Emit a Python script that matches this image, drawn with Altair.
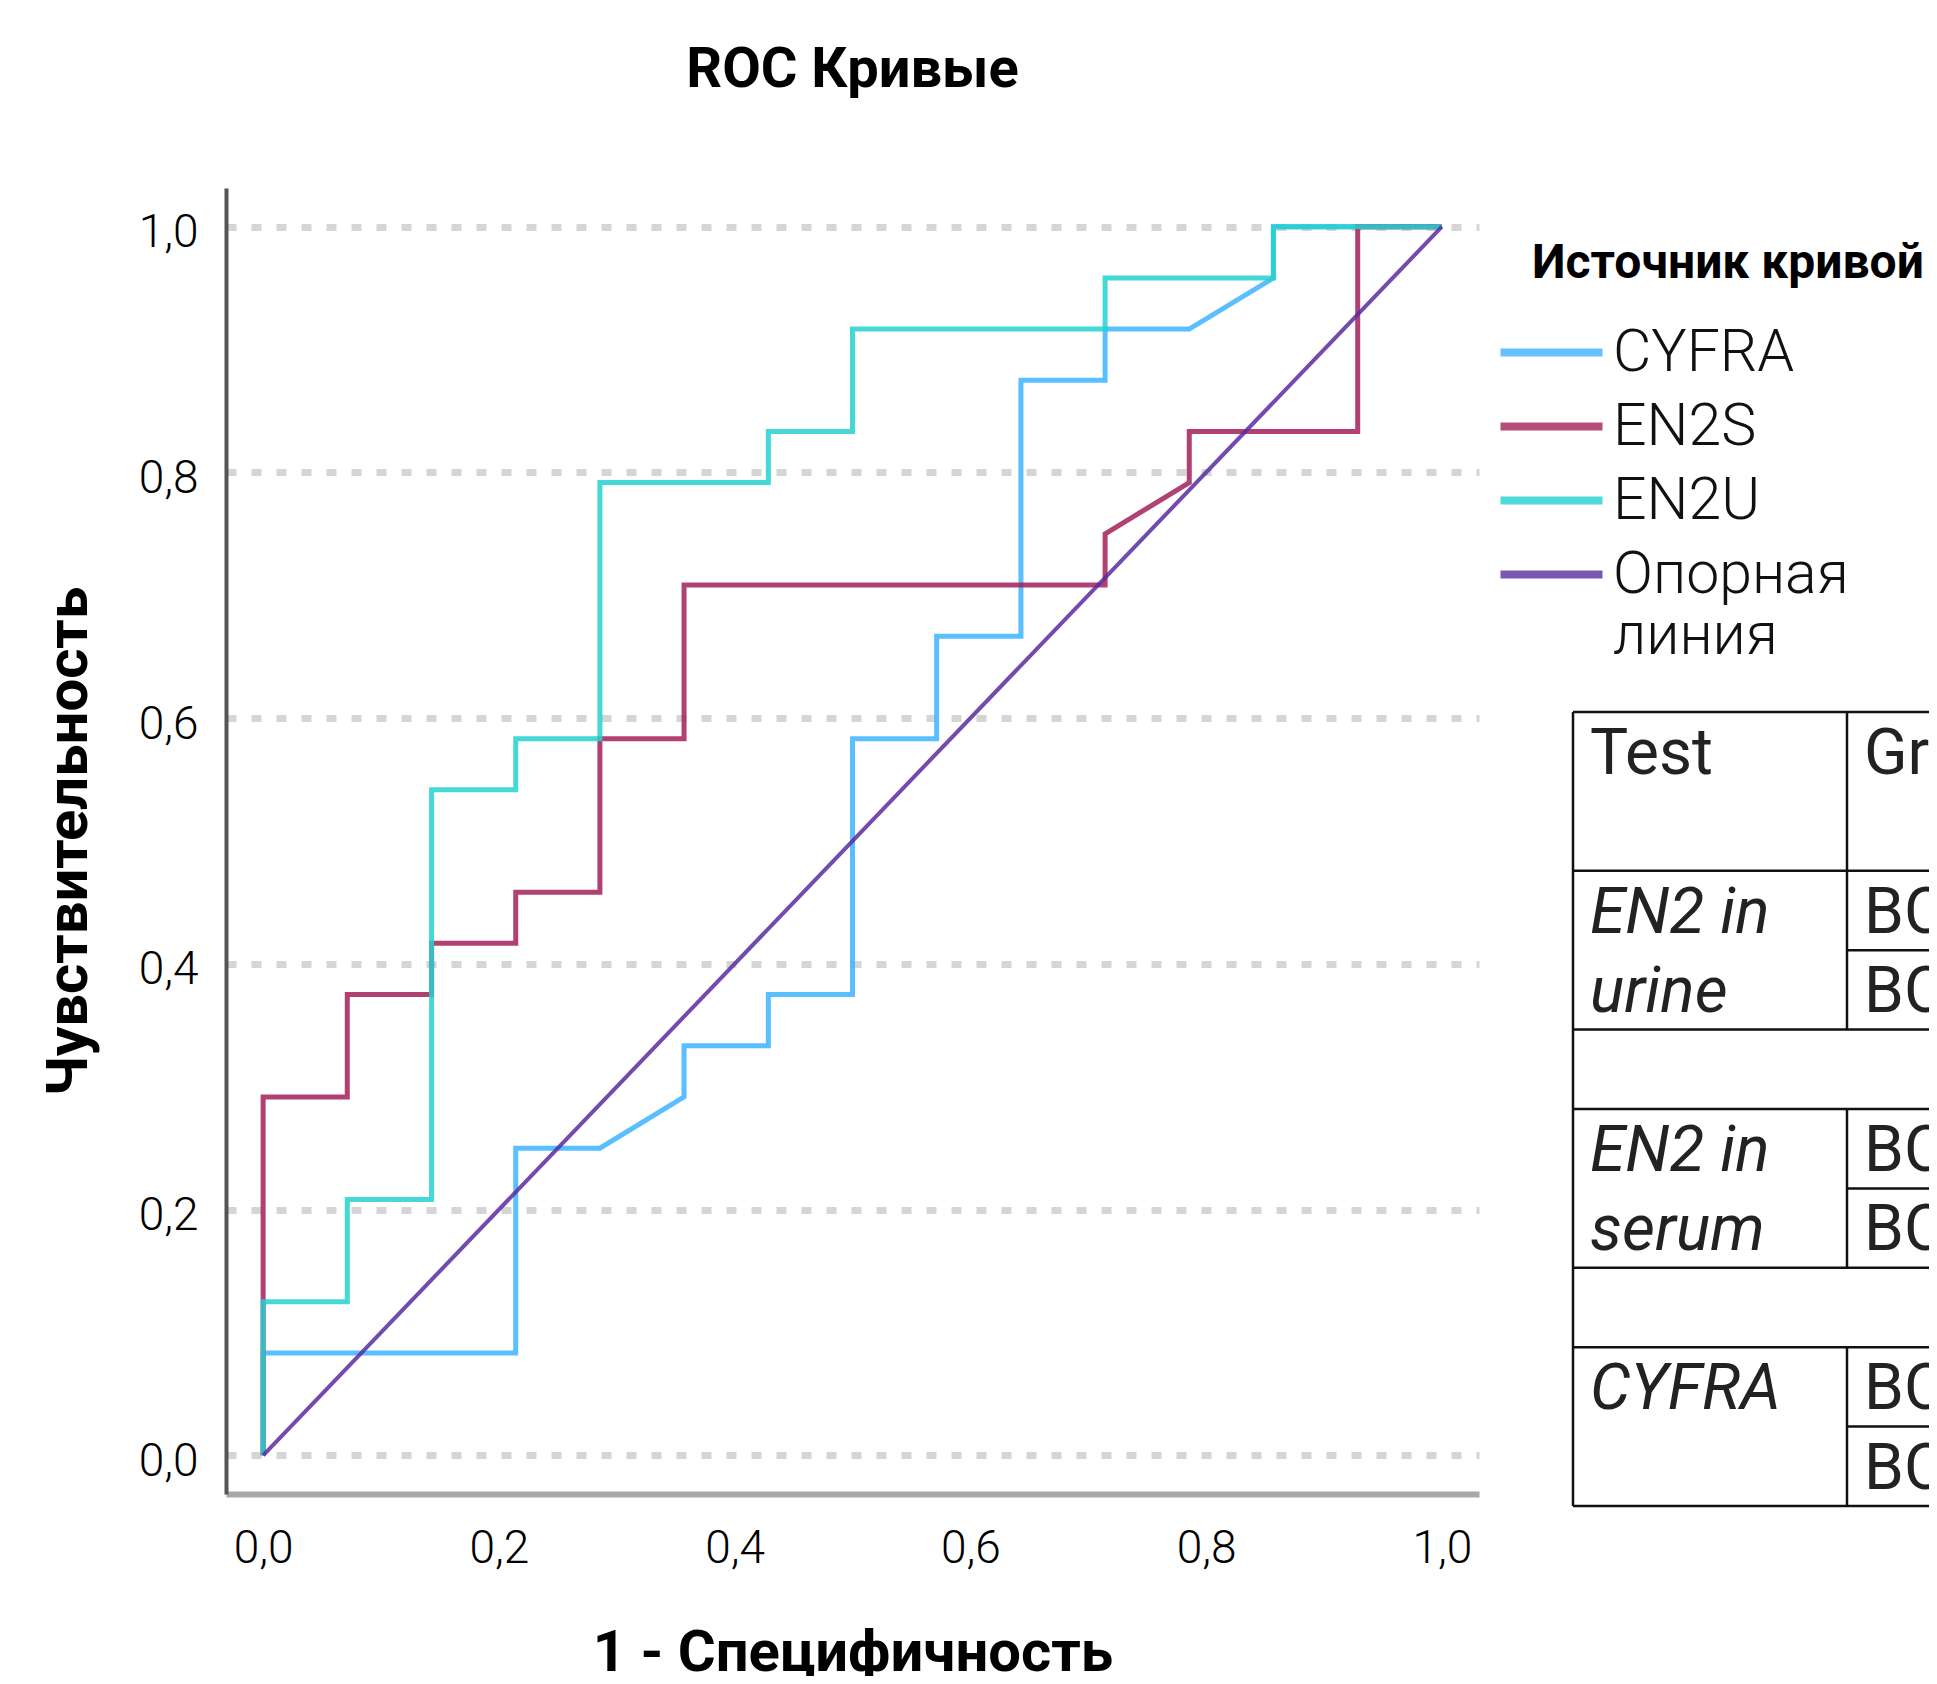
import altair as alt
import pandas as pd

# ---------------- data ----------------
series_names = ["CYFRA", "EN2S", "EN2U", "Опорная линия"]
series_colors = ["#3db4ff", "#a3205a", "#23d2cf", "#5b2ca0"]

cyfra_fpr = [0.0, 0.0, 0.2143, 0.2143, 0.2857, 0.3571, 0.3571, 0.4286, 0.4286, 0.5, 0.5,
             0.5714, 0.5714, 0.6429, 0.6429, 0.7143, 0.7143, 0.7857, 0.8571, 0.8571, 1.0]
cyfra_tpr = [0.0, 0.0833, 0.0833, 0.25, 0.25, 0.2917, 0.3333, 0.3333, 0.375, 0.375, 0.5833,
             0.5833, 0.6667, 0.6667, 0.875, 0.875, 0.9167, 0.9167, 0.9583, 1.0, 1.0]

en2s_fpr = [0.0, 0.0, 0.0714, 0.0714, 0.1429, 0.1429, 0.2143, 0.2143, 0.2857, 0.2857,
            0.3571, 0.3571, 0.7143, 0.7143, 0.7857, 0.7857, 0.9286, 0.9286, 1.0]
en2s_tpr = [0.0, 0.2917, 0.2917, 0.375, 0.375, 0.4167, 0.4167, 0.4583, 0.4583, 0.5833,
            0.5833, 0.7083, 0.7083, 0.75, 0.7917, 0.8333, 0.8333, 1.0, 1.0]

en2u_fpr = [0.0, 0.0, 0.0714, 0.0714, 0.1429, 0.1429, 0.2143, 0.2143, 0.2857, 0.2857,
            0.4286, 0.4286, 0.5, 0.5, 0.7143, 0.7143, 0.8571, 0.8571, 1.0]
en2u_tpr = [0.0, 0.125, 0.125, 0.2083, 0.2083, 0.5417, 0.5417, 0.5833, 0.5833, 0.7917,
            0.7917, 0.8333, 0.8333, 0.9167, 0.9167, 0.9583, 0.9583, 1.0, 1.0]

ref_fpr = [0.0, 1.0]
ref_tpr = [0.0, 1.0]

axis_ticks = [0.0, 0.2, 0.4, 0.6, 0.8, 1.0]

# inset table (partially cut off at the right edge in the reference)
table_names = ["EN2 in", "urine", "EN2 in", "serum", "CYFRA"]
table_name_rows = [2, 3, 5, 6, 8]
table_header = ["Test", "Groups"]
table_group = ["BC", "BC", "BC", "BC", "BC", "BC"]
table_group_rows = [2, 3, 5, 6, 8, 9]
table_hline_full = [0, 2, 4, 5, 7, 8, 10]
table_hline_col2 = [3, 6, 9]
table_vline_left = [(0, 10)]
table_vline_mid = [(0, 4), (5, 7), (8, 10)]

# ---------------- frames ----------------
rows = []
for name, xs, ys in [("CYFRA", cyfra_fpr, cyfra_tpr), ("EN2S", en2s_fpr, en2s_tpr),
                     ("EN2U", en2u_fpr, en2u_tpr), ("Опорная линия", ref_fpr, ref_tpr)]:
    for i, (xv, yv) in enumerate(zip(xs, ys)):
        rows.append({"series": name, "fpr": xv, "tpr": yv, "idx": i})
curves = pd.DataFrame(rows)

label_expr = "replace(format(datum.value, '.1f'), '.', ',')"

x_enc = alt.X(
    "fpr:Q",
    scale=alt.Scale(domain=[-0.0315, 1.0315], nice=False, zero=False),
    axis=alt.Axis(
        values=axis_ticks, labelExpr=label_expr, grid=False, ticks=False,
        domainColor="#a8a8a8", domainWidth=6,
        labelFont="Roboto", labelFontSize=46, labelFontWeight=300, labelColor="#000",
        labelPadding=32,
        title="1 - Специфичность", titleFont="Roboto", titleFontSize=58,
        titleFontWeight="bold", titleColor="#000", titleBaseline="alphabetic",
        titleX=626.5, titleY=176,
    ),
)
y_enc = alt.Y(
    "tpr:Q",
    scale=alt.Scale(domain=[-0.0315, 1.0315], nice=False, zero=False),
    axis=alt.Axis(
        values=axis_ticks, labelExpr=label_expr, grid=True, gridDash=[10, 15],
        gridColor="#d5d5d5", gridWidth=7, ticks=False,
        domainColor="#555555", domainWidth=4,
        labelFont="Roboto", labelFontSize=46, labelFontWeight=300, labelColor="#000",
        labelPadding=28, labelOffset=6,
        title="Чувствительность", titleFont="Roboto", titleFontSize=58,
        titleFontWeight="bold", titleColor="#000", titleAngle=270,
        titleBaseline="alphabetic", titleAlign="center", titleX=-139.5, titleY=653,
    ),
)
color_enc = alt.Color(
    "series:N",
    scale=alt.Scale(domain=series_names, range=series_colors),
    legend=alt.Legend(
        title="Источник кривой", orient="none", legendX=1306, legendY=52, padding=0,
        titleFont="Roboto", titleFontSize=48, titleFontWeight="bold", titleColor="#000",
        titlePadding=35, titleLimit=700,
        labelFont="Roboto", labelFontSize=59, labelFontWeight=300, labelColor="#111",
        labelLimit=700, labelOffset=22,
        labelExpr="datum.label == 'Опорная линия' ? ['Опорная', 'линия'] : datum.label",
        symbolType="M-3.05,0H2.05", symbolSize=1600, symbolStrokeWidth=8, symbolOpacity=0.8,
        rowPadding=14,
    ),
)

layers = []
for name in series_names:
    width = 4 if name == "Опорная линия" else 5
    layers.append(
        alt.Chart(curves)
        .transform_filter(alt.datum.series == name)
        .mark_line(strokeWidth=width, opacity=0.85)
        .encode(x=x_enc, y=y_enc, color=color_enc, order=alt.Order("idx:Q"))
    )
curve_layer = alt.layer(*layers)

# ---------------- table ----------------
hl = [{"ty": r, "tx": 0, "tx2": 2} for r in table_hline_full] + \
     [{"ty": r, "tx": 1, "tx2": 2} for r in table_hline_col2]
vl = [{"tx": 0, "ty": a, "ty2": b} for a, b in table_vline_left] + \
     [{"tx": 1, "ty": a, "ty2": b} for a, b in table_vline_mid]
t_upright = [{"tx": 0, "ty": 0, "t": table_header[0]}, {"tx": 1, "ty": 0, "t": table_header[1]}] + \
            [{"tx": 1, "ty": r, "t": s} for r, s in zip(table_group_rows, table_group)]
t_italic = [{"tx": 0, "ty": r, "t": s} for r, s in zip(table_name_rows, table_names)]

tx_scale = alt.Scale(domain=[0, 1], range=[1347, 1621], nice=False, zero=False)
ty_scale = alt.Scale(domain=[0, 10], range=[524, 1318], nice=False, zero=False)

hrule = alt.Chart(pd.DataFrame(hl)).mark_rule(color="#111", strokeWidth=2.5).encode(
    x=alt.X("tx:Q", scale=tx_scale, axis=None), x2="tx2:Q",
    y=alt.Y("ty:Q", scale=ty_scale, axis=None))
vrule = alt.Chart(pd.DataFrame(vl)).mark_rule(color="#111", strokeWidth=2.5).encode(
    x=alt.X("tx:Q", scale=tx_scale, axis=None),
    y=alt.Y("ty:Q", scale=ty_scale, axis=None), y2="ty2:Q")
txt_up = alt.Chart(pd.DataFrame(t_upright)).mark_text(
    align="left", baseline="alphabetic", dx=17, dy=62, font="Roboto", fontSize=64, color="#222"
).encode(x=alt.X("tx:Q", scale=tx_scale, axis=None), y=alt.Y("ty:Q", scale=ty_scale, axis=None), text="t:N")
txt_it = alt.Chart(pd.DataFrame(t_italic)).mark_text(
    align="left", baseline="alphabetic", dx=17, dy=62, font="Roboto", fontSize=64, color="#222",
    fontStyle="italic"
).encode(x=alt.X("tx:Q", scale=tx_scale, axis=None), y=alt.Y("ty:Q", scale=ty_scale, axis=None), text="t:N")
table_layer = alt.layer(hrule, vrule, txt_up, txt_it)

chart = (
    alt.layer(curve_layer, table_layer)
    .resolve_scale(x="independent", y="independent")
    .properties(
        width=1253, height=1306,
        padding={"left": 218, "top": 180, "right": 450, "bottom": 182},
        autosize=alt.AutoSizeParams(type="none"),
        background="white",
        title=alt.TitleParams("ROC Кривые", font="Roboto", fontSize=56, fontWeight="bold",
                              color="#000", anchor="middle", frame="group",
                              baseline="alphabetic", offset=45),
    )
    .configure_view(strokeWidth=0)
)

chart.save("out.html", embed_options={"renderer": "svg", "actions": False})
